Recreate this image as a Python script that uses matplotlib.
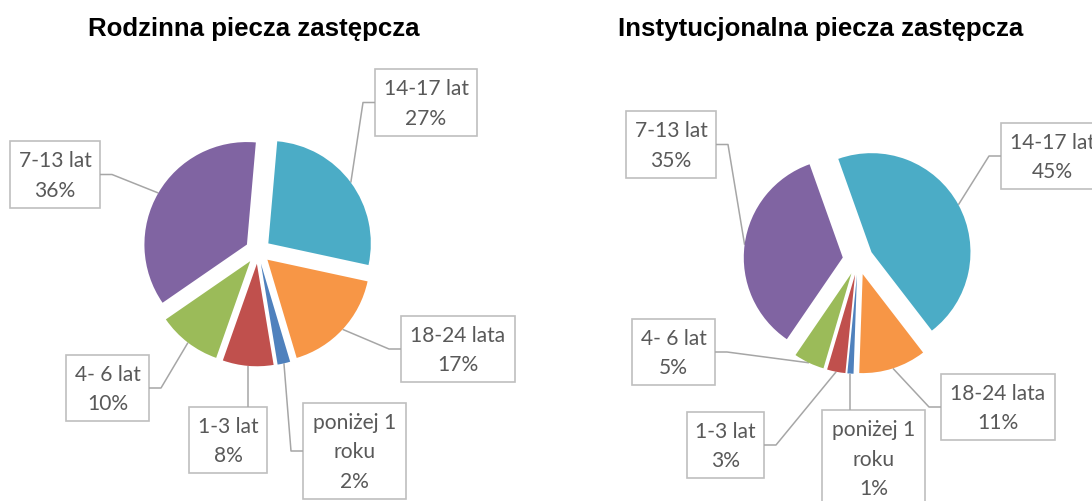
import numpy as np
import matplotlib
matplotlib.use("Agg")
import matplotlib.pyplot as plt
from matplotlib.patches import Rectangle

# ---------- dane ----------
kategorie = ["poniżej 1\nroku", "1-3 lat", "4- 6 lat", "7-13 lat", "14-17 lat", "18-24 lata"]
rodzinna = [2, 8, 10, 36, 27, 17]
instytucjonalna = [1, 3, 5, 35, 45, 11]
tytuly = ["Rodzinna piecza zastępcza", "Instytucjonalna piecza zastępcza"]

# ---------- kolory (paleta Office) ----------
kolory = ["#4F81BD", "#C0504D", "#9BBB59", "#8064A2", "#4BACC6", "#F79646"]
C_TEXT = "#595959"
C_BOX = "#BFBFBF"
C_LINE = "#A6A6A6"

W, H = 1092, 501

# ---------- układ (piksele obrazu, y w dół) ----------
# środek koła, promień, odsunięcie wycinków, kąt startowy
pies = [
    dict(cx=258, cy=251, r=102.5, explode=0.125, start=-73.4, title_x=254),
    dict(cx=858, cy=259.5, r=99.0, explode=0.155, start=-92.0, title_x=821),
]
# ramki etykiet: (x0, y0, szer, wys, strona podłączenia linii)
ramki = [
    [(303, 403, 103, 96, "left"), (189, 407, 78, 66, "top"), (66, 355, 83, 66, "right"),
     (10, 141, 90, 67, "right"), (375, 69, 102, 67, "left"), (401, 316, 114, 66, "left")],
    [(822, 410, 103, 96, "top"), (687, 412, 77, 66, "right"), (632, 319, 83, 66, "right"),
     (626, 111, 90, 67, "right"), (1001, 123, 102, 66, "left"), (941, 374, 114, 66, "left")],
]
STUB = 12
PITCH = 29.3   # odstęp linii tekstu w ramce
CAP = 15.0     # wysokość wersalików

fig = plt.figure(figsize=(W / 100, H / 100), dpi=100)
fig.patch.set_facecolor("white")
ov = fig.add_axes([0, 0, 1, 1])
ov.set_xlim(0, W)
ov.set_ylim(H, 0)
ov.axis("off")

for dane, p, boxes, tytul in zip([rodzinna, instytucjonalna], pies, ramki, tytuly):
    L = 1.6
    size = 2 * L * p["r"]
    ax = fig.add_axes([(p["cx"] - L * p["r"]) / W, (H - p["cy"] - L * p["r"]) / H, size / W, size / H])
    wedges, _ = ax.pie(dane, colors=kolory, startangle=p["start"], counterclock=False,
                       explode=[p["explode"]] * len(dane), wedgeprops=dict(linewidth=0))
    ax.set_xlim(-L, L)
    ax.set_ylim(-L, L)
    ax.set_aspect("auto")
    ax.axis("off")

    ov.text(p["title_x"], 36, tytul, ha="center", va="baseline", fontsize=18.6,
            fontweight="bold", family="Liberation Sans", color="black")

    suma = float(sum(dane))
    for w, kat, v, (x0, y0, bw, bh, side) in zip(wedges, kategorie, dane, boxes):
        mid = np.deg2rad((w.theta1 + w.theta2) / 2)
        pt = (w.center[0] + w.r * np.cos(mid), w.center[1] + w.r * np.sin(mid))
        px, py = ov.transData.inverted().transform(ax.transData.transform(pt))
        bcy = y0 + bh / 2
        if side == "left":
            xs, ys = [px, x0 - STUB, x0], [py, bcy, bcy]
        elif side == "right":
            xs, ys = [px, x0 + bw + STUB, x0 + bw], [py, bcy, bcy]
        else:
            xs, ys = [px, px], [py, y0]
        ov.plot(xs, ys, color=C_LINE, lw=1.1, solid_capstyle="butt")

        ov.add_patch(Rectangle((x0, y0), bw, bh, facecolor="white", edgecolor=C_BOX, lw=1.2))
        linie = kat.split("\n") + [f"{v / suma * 100:.0f}%"]
        n = len(linie)
        for i, t in enumerate(linie):
            yb = bcy + CAP / 2 + (i - (n - 1) / 2) * PITCH
            ov.text(x0 + bw / 2, yb, t, ha="center", va="baseline", fontsize=15.1,
                    family="Lato", color=C_TEXT)

fig.savefig("out.png", dpi=100, facecolor="white")
